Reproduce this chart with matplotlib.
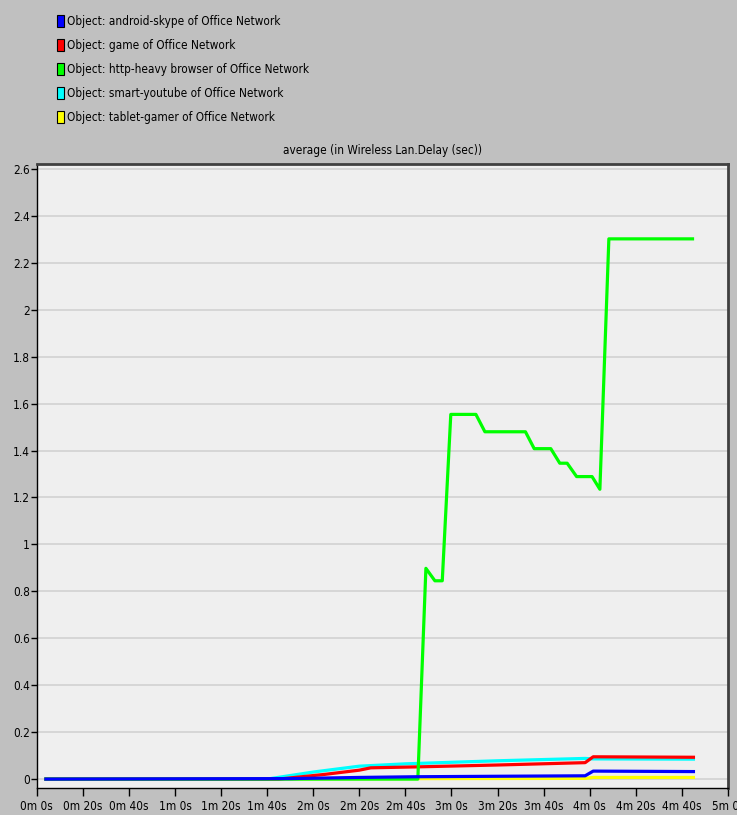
import matplotlib
matplotlib.use("Agg")
import matplotlib.pyplot as plt
from matplotlib.patches import Rectangle
from matplotlib.ticker import FixedLocator, FuncFormatter

plt.rcParams['font.family'] = ['DejaVu Sans']
plt.rcParams['font.stretch'] = 'condensed'

# sample times (s) and average delay (s) per object
skype_t = [4, 110, 140, 165, 200, 238, 241.5, 285]
skype_v = [0, 0.002, 0.007, 0.010, 0.012, 0.014, 0.034, 0.032]

game_t = [4, 105, 125, 140, 145, 165, 200, 238, 241.5, 285]
game_v = [0, 0, 0.020, 0.038, 0.048, 0.052, 0.060, 0.070, 0.095, 0.093]

http_t = [4, 165.4, 168.9, 172.8, 176.0, 179.7, 190.6, 194.5, 212.1, 215.9,
          223.1, 227.0, 230.2, 234.3, 241.0, 244.4, 248.3, 284.6]
http_v = [0, 0, 0.898, 0.845, 0.845, 1.554, 1.554, 1.480, 1.480, 1.408,
          1.408, 1.346, 1.346, 1.289, 1.289, 1.235, 2.302, 2.302]

youtube_t = [4, 100, 120, 140, 160, 200, 238, 241.5, 285]
youtube_v = [0, 0, 0.030, 0.055, 0.065, 0.078, 0.088, 0.086, 0.085]

gamer_t = [4, 165, 238, 241.5, 285]
gamer_v = [0, 0.002, 0.003, 0.007, 0.007]

legend_labels = [
    "Object: android-skype of Office Network",
    "Object: game of Office Network",
    "Object: http-heavy browser of Office Network",
    "Object: smart-youtube of Office Network",
    "Object: tablet-gamer of Office Network",
]
legend_colors = ["#0000ff", "#ff0000", "#00ff00", "#00ffff", "#ffff00"]

y_ticks = [0, 0.2, 0.4, 0.6, 0.8, 1, 1.2, 1.4, 1.6, 1.8, 2, 2.2, 2.4, 2.6]
x_ticks = list(range(0, 301, 20))

W, H = 737, 815
fig = plt.figure(figsize=(W / 100, H / 100), dpi=100, facecolor="#c0c0c0")
ax = fig.add_axes([36.7 / W, 1 - 788 / H, (728 - 36.7) / W, (788 - 164) / H])
ax.set_facecolor("#efefef")

lw = 2.3
ax.plot(gamer_t, gamer_v, color="#ffff00", lw=lw, zorder=3)
ax.plot(youtube_t, youtube_v, color="#00ffff", lw=lw, zorder=4)
ax.plot(game_t, game_v, color="#ff0000", lw=lw, zorder=5)
ax.plot(http_t, http_v, color="#00ff00", lw=lw, zorder=6)
ax.plot(skype_t, skype_v, color="#0000ff", lw=lw, zorder=7)

ax.set_xlim(0, 300)
ax.set_ylim(-0.038, 2.621)

ax.yaxis.set_major_locator(FixedLocator(y_ticks))
ax.yaxis.set_major_formatter(FuncFormatter(lambda v, p: f"{v:g}"))
ax.xaxis.set_major_locator(FixedLocator(x_ticks))
ax.xaxis.set_major_formatter(FuncFormatter(lambda s, p: f"{int(s) // 60}m {int(s) % 60}s"))
ax.tick_params(axis="y", direction="out", length=4, width=1, color="black",
               labelsize=8.5, pad=1)
ax.tick_params(axis="x", direction="out", length=6, width=1, color="black",
               labelsize=8.5, pad=3)

ax.grid(axis="y", color="#d4d4d4", lw=1.3)
ax.set_axisbelow(True)

for side in ("left", "bottom"):
    ax.spines[side].set_color("black")
    ax.spines[side].set_linewidth(1)
for side in ("top", "right"):
    ax.spines[side].set_color("#404040")
    ax.spines[side].set_linewidth(2)

ax.set_title("average (in Wireless Lan.Delay (sec))", fontsize=8.5, pad=7)

# legend block in the upper-left corner
for i, (lab, col) in enumerate(zip(legend_labels, legend_colors)):
    yc = 21 + i * 24
    fig.patches.append(Rectangle((57 / W, 1 - (yc + 5.5) / H), 7 / W, 11 / H,
                                 facecolor=col, edgecolor="black", lw=0.8,
                                 transform=fig.transFigure, figure=fig))
    fig.text(67 / W, 1 - yc / H, lab, fontsize=8.5, va="center", ha="left")

fig.savefig("out.png", dpi=100, facecolor=fig.get_facecolor())
